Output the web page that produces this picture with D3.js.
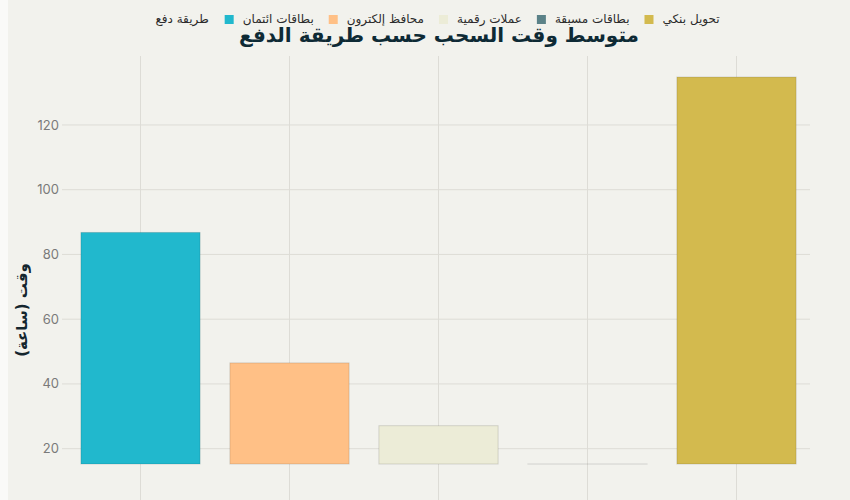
<!DOCTYPE html>
<html>
<head>
<meta charset="utf-8">
<script src="https://cdn.jsdelivr.net/npm/d3@7"></script>
<style>
  html, body { margin: 0; padding: 0; background: #fafaf8; overflow: hidden; }
  #chart { position: absolute; left: 8px; top: 0; width: 842px; height: 500px; background: #f2f2ed; overflow: hidden; }
  svg { display: block; }
</style>
</head>
<body>
<div id="chart"></div>
<script>
const categories = ["بطاقات ائتمان", "محافظ إلكترون", "عملات رقمية", "بطاقات مسبقة", "تحويل بنكي"];
const values = [86.8, 46.5, 27.1, 15.27, 134.8];
const colors = ["#21b8cd", "#ffc086", "#ececd7", "#5b8288", "#d3ba4e"];
const yTicks = [20, 40, 60, 80, 100, 120];
const titleText = "متوسط وقت السحب حسب طريقة الدفع";
const legendTitle = "طريقة دفع";
const yTitle = "وقت (ساعة)";
const yDomain = [15.27, 141.3];

const W = 842, H = 500;
const ox = -8; // chart div starts at x=8
const svg = d3.select("#chart").append("svg").attr("width", W).attr("height", H);
const g = svg.append("g").attr("transform", `translate(${ox},0)`);

const plotTop = 56, plotBase = 464;
const x = d3.scaleBand().domain(categories).range([66, 811]).paddingInner(0.2).paddingOuter(0.1);
const y = d3.scaleLinear().domain(yDomain).range([plotBase, plotTop]);

// horizontal gridlines
g.append("g").selectAll("line").data(yTicks).join("line")
  .attr("x1", 62).attr("x2", 810)
  .attr("y1", d => y(d)).attr("y2", d => y(d))
  .attr("stroke", "#dddcd6").attr("stroke-width", 1);

// vertical gridlines
g.append("g").selectAll("line").data(categories).join("line")
  .attr("x1", d => x(d) + x.bandwidth() / 2).attr("x2", d => x(d) + x.bandwidth() / 2)
  .attr("y1", plotTop).attr("y2", H + 20)
  .attr("stroke", "#dddcd6").attr("stroke-width", 1);

// y tick labels
g.append("g").selectAll("text").data(yTicks).join("text")
  .attr("x", 59).attr("y", d => y(d)).attr("dy", "0.35em")
  .attr("text-anchor", "end")
  .attr("font-family", "Inter, 'Noto Sans', sans-serif")
  .attr("font-size", 13).attr("fill", "#7a7a7a")
  .text(d => d);

// bars
g.append("g").selectAll("rect").data(categories).join("rect")
  .attr("x", d => x(d))
  .attr("width", x.bandwidth())
  .attr("y", (d, i) => y(values[i]))
  .attr("height", (d, i) => Math.max(y(yDomain[0]) - y(values[i]), 0.01))
  .attr("fill", (d, i) => colors[i])
  .attr("stroke", "rgba(0,0,0,0.13)")
  .attr("stroke-width", 1);

// y axis title
g.append("text")
  .attr("transform", "translate(27,310) rotate(-90)")
  .attr("text-anchor", "middle")
  .attr("font-family", "'DejaVu Sans', sans-serif")
  .attr("font-weight", "bold")
  .attr("font-size", 15).attr("fill", "#14262e")
  .text(yTitle);

// title
g.append("text")
  .attr("x", 439).attr("y", 42)
  .attr("text-anchor", "middle")
  .attr("font-family", "'DejaVu Sans', sans-serif")
  .attr("font-weight", "bold")
  .attr("font-size", 20).attr("fill", "#0e2a35")
  .text(titleText);

// legend
const leg = g.append("g");
const lt = leg.append("text").attr("y", 23)
  .attr("font-family", "'DejaVu Sans', sans-serif")
  .attr("font-size", 12).attr("fill", "#2b2b2b")
  .text(legendTitle);
let cursor = 0;
let tw = lt.node().getComputedTextLength();
lt.attr("x", cursor);
cursor += tw + 16;
categories.forEach((c, i) => {
  leg.append("rect").attr("x", cursor).attr("y", 15).attr("width", 9).attr("height", 9)
    .attr("fill", colors[i]);
  cursor += 9 + 9;
  const t = leg.append("text").attr("x", cursor).attr("y", 23)
    .attr("font-family", "'DejaVu Sans', sans-serif")
    .attr("font-size", 12).attr("fill", "#2b2b2b")
    .text(c);
  cursor += t.node().getComputedTextLength() + 15;
});
const totalW = cursor - 15;
leg.attr("transform", `translate(${437.5 - totalW / 2},0)`);
</script>
</body>
</html>
